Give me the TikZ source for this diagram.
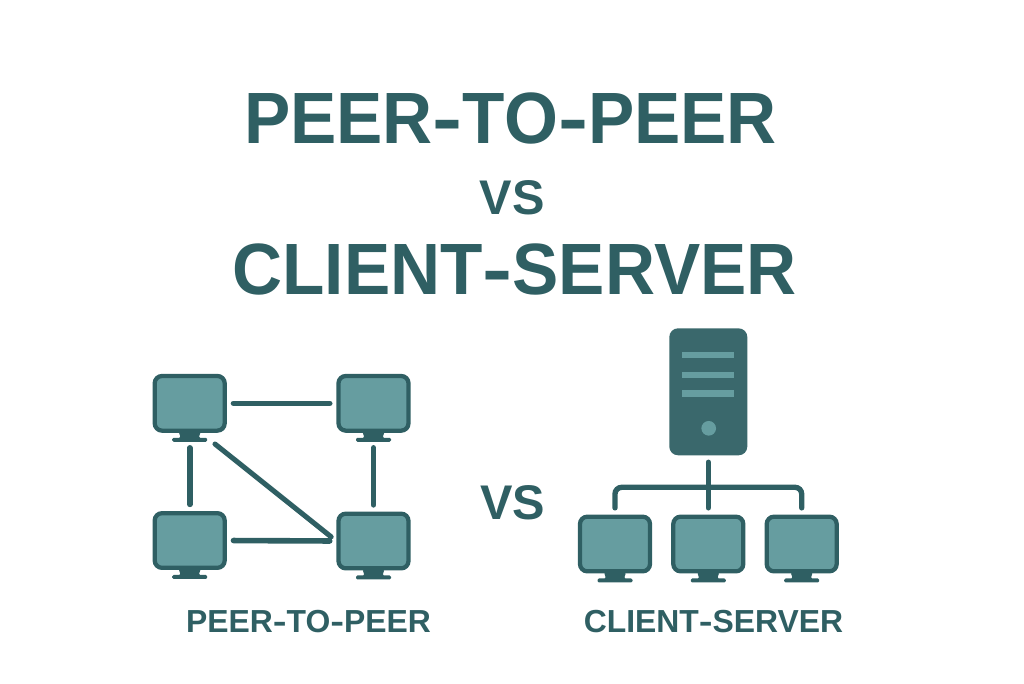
\documentclass[tikz,border=0pt]{standalone}
\usepackage{fontspec}
\setmainfont{Liberation Sans}
\usetikzlibrary{positioning}
\definecolor{tealdark}{HTML}{2F5F63}
\definecolor{tealserver}{HTML}{3A686C}
\definecolor{teallight}{HTML}{669DA0}
\tikzset{
  title/.style={text=tealdark, font=\bfseries, inner sep=0pt},
  bigtitle/.style={title, xscale=5.2, yscale=5.45},
  smalltitle/.style={title, scale=2.39},
  vstitle/.style={title, scale=3.65},
  monitor/.style={draw=tealdark, fill=teallight, line width=3.2pt, rounded corners=5.5pt,
    minimum width=52.5pt, minimum height=41pt, inner sep=0pt},
  link/.style={draw=tealdark, line width=4.2pt, line cap=round, shorten <=5pt, shorten >=5pt},
  stripe/.style={fill=teallight, minimum width=39pt, minimum height=4.7pt, inner sep=0pt},
}
% wider hyphen
\newcommand{\hy}{\scalebox{1.3}[1]{-}}
% monitor with its foot
\newcommand{\screen}[2]{%
  \node[monitor] (#1) at (#2) {};
  \fill[tealdark, rounded corners=1pt] ([shift={(-11,-1)}]#1.south) -- ([shift={(11,-1)}]#1.south) -- ([shift={(9,5)}]#1.south)
    -- ([shift={(17.5,5)}]#1.south) -- ([shift={(17.5,9)}]#1.south)
    -- ([shift={(-17.5,9)}]#1.south) -- ([shift={(-17.5,5)}]#1.south)
    -- ([shift={(-9,5)}]#1.south) -- cycle;
}
\begin{document}
\begin{tikzpicture}[x=0.75pt,y=-0.75pt]
  \useasboundingbox (0,0) rectangle (1024,683);

  % Headings
  \node[bigtitle] (head1) at (510.5,118) {PEER\hy TO\hy PEER};
  \node[vstitle] (headvs) at (512,197.5) {VS};
  \node[bigtitle] (head2) at (514.5,269.5) {CLIENT\hy SERVER};

  % Peer to peer
  \screen{tl}{189.7,403.3}
  \screen{tr}{373.5,403.3}
  \screen{bl}{189.7,540.5}
  \screen{br}{373.5,541}
  \coordinate (foot) at (215,444);
  \draw[link] (tl.east) -- (tr.west);
  \draw[link] (bl.east) -- (br.west);
  \draw[link, shorten <=11.3pt] (tl.south) -- (bl.north);
  \draw[link, shorten <=11.3pt] (tr.south) -- (br.north);
  \draw[link, shorten <=0pt, line width=3.8pt] (foot) -- (br.west);
  \node[smalltitle] (lab1) at (308.5,622) {PEER\hy TO\hy PEER};

  \node[vstitle] (midvs) at (512.5,503) {VS};

  % Client server
  \node[fill=tealserver, rounded corners=6.5pt, minimum width=58.5pt, minimum height=95.2pt, inner sep=0pt] (server) at (708.3,391.8) {};
  \node[stripe] (s1) at (708,355.2) {};
  \node[stripe, below=9.5pt of s1] (s2) {};
  \node[stripe, below=9pt of s2] (s3) {};
  \node[circle, fill=teallight, minimum size=11pt, inner sep=0pt] (led) at (708.7,428.3) {};
  \screen{c1}{615,544}
  \screen{c2}{708.3,544}
  \screen{c3}{801.7,544}
  \coordinate (bus) at (708.3,487.3);
  \draw[link, line width=4pt, rounded corners=5pt] (c1.north) -- (c1.north |- bus) -- (c3.north |- bus) -- (c3.north);
  \draw[link, line width=4pt] (server.south) -- (c2.north);
  \node[smalltitle] (lab2) at (713.5,622) {CLIENT\hy SERVER};
\end{tikzpicture}
\end{document}
